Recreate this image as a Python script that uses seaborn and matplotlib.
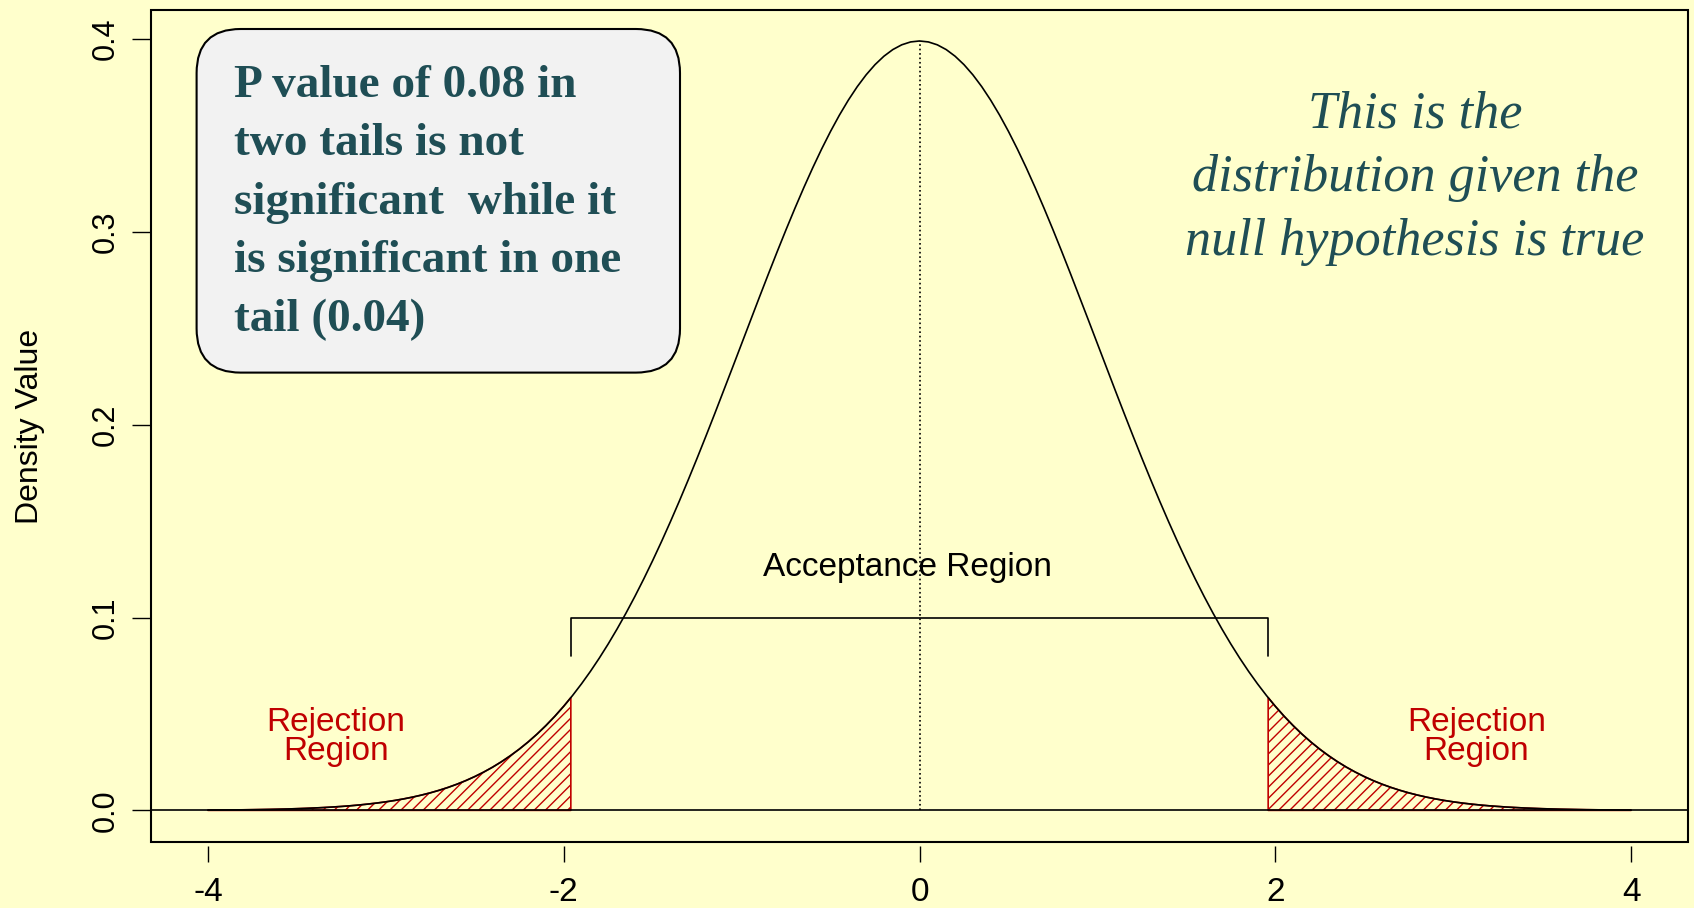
import numpy as np
import matplotlib
matplotlib.use('Agg')
import matplotlib.pyplot as plt
from matplotlib.patches import FancyBboxPatch, Rectangle
import seaborn as sns

# ── datos (densidad normal estándar, paso 0.05) ─────────────────────────────
x_vals = [round(-4 + 0.05 * i, 2) for i in range(161)]
densidad = [
    0.00013, 0.00016, 0.00020, 0.00024, 0.00029, 0.00035, 0.00042, 0.00051, 0.00061, 0.00073,
    0.00087, 0.00104, 0.00123, 0.00146, 0.00172, 0.00203, 0.00238, 0.00279, 0.00327, 0.00381,
    0.00443, 0.00514, 0.00595, 0.00687, 0.00792, 0.00909, 0.01042, 0.01191, 0.01358, 0.01545,
    0.01753, 0.01984, 0.02239, 0.02522, 0.02833, 0.03174, 0.03547, 0.03955, 0.04398, 0.04879,
    0.05399, 0.05959, 0.06562, 0.07206, 0.07895, 0.08628, 0.09405, 0.10226, 0.11092, 0.12001,
    0.12952, 0.13943, 0.14973, 0.16038, 0.17137, 0.18265, 0.19419, 0.20594, 0.21785, 0.22988,
    0.24197, 0.25406, 0.26609, 0.27798, 0.28969, 0.30114, 0.31225, 0.32297, 0.33322, 0.34294,
    0.35207, 0.36053, 0.36827, 0.37524, 0.38139, 0.38667, 0.39104, 0.39448, 0.39695, 0.39844,
    0.39894,
    0.39844, 0.39695, 0.39448, 0.39104, 0.38667, 0.38139, 0.37524, 0.36827, 0.36053, 0.35207,
    0.34294, 0.33322, 0.32297, 0.31225, 0.30114, 0.28969, 0.27798, 0.26609, 0.25406, 0.24197,
    0.22988, 0.21785, 0.20594, 0.19419, 0.18265, 0.17137, 0.16038, 0.14973, 0.13943, 0.12952,
    0.12001, 0.11092, 0.10226, 0.09405, 0.08628, 0.07895, 0.07206, 0.06562, 0.05959, 0.05399,
    0.04879, 0.04398, 0.03955, 0.03547, 0.03174, 0.02833, 0.02522, 0.02239, 0.01984, 0.01753,
    0.01545, 0.01358, 0.01191, 0.01042, 0.00909, 0.00792, 0.00687, 0.00595, 0.00514, 0.00443,
    0.00381, 0.00327, 0.00279, 0.00238, 0.00203, 0.00172, 0.00146, 0.00123, 0.00104, 0.00087,
    0.00073, 0.00061, 0.00051, 0.00042, 0.00035, 0.00029, 0.00024, 0.00020, 0.00016, 0.00013,
]
z_crit = 1.96
dens_crit = 0.05844
pico = 0.39894
bracket_y = [0.08, 0.10]

xticks = [-4, -2, 0, 2, 4]
xtick_labels = ['-4', '-2', '0', '2', '4']
yticks = [0.0, 0.1, 0.2, 0.3, 0.4]
ytick_labels = ['0.0', '0.1', '0.2', '0.3', '0.4']

box_lines = ['P value of 0.08 in', 'two tails is not', 'significant  while it',
             'is significant in one', 'tail (0.04)']
nota_lines = ['This is the', 'distribution given the', 'null hypothesis is true']

FONDO = '#FFFFCC'; ROJO = '#C00000'; TEAL = '#1F4E55'; CAJA = '#F2F2F2'

sns.set_style('white', rc={'axes.facecolor': FONDO, 'figure.facecolor': FONDO})
plt.rcParams['font.family'] = ['Liberation Sans', 'DejaVu Sans']
plt.rcParams['hatch.linewidth'] = 1.0
plt.rcParams['hatch.color'] = ROJO

W, H = 1694, 908
fig = plt.figure(figsize=(W / 100, H / 100), dpi=100)
fig.patch.set_facecolor(FONDO)
ax = fig.add_axes([151 / W, 1 - 842 / H, (1688 - 151) / W, (842 - 10) / H])
ax.set_facecolor(FONDO)

# curva
sns.lineplot(x=x_vals, y=densidad, color='black', lw=1.2, ax=ax)

# colas sombreadas
xs = np.array(x_vals); ds = np.array(densidad)
izq = xs <= -z_crit
der = xs >= z_crit
tx_l = np.append(xs[izq], -z_crit); ty_l = np.append(ds[izq], dens_crit)
tx_r = np.insert(xs[der], 0, z_crit); ty_r = np.insert(ds[der], 0, dens_crit)
for tx, ty in [(tx_l, ty_l), (tx_r, ty_r)]:
    ax.fill_between(tx, 0, ty, facecolor='none', edgecolor=ROJO, hatch='///', lw=1.2)

ax.axhline(0, color='black', lw=1.2)
ax.plot([0, 0], [0, pico], color='black', lw=1.2, ls=':')
ax.plot([-z_crit, -z_crit, z_crit, z_crit],
        [bracket_y[0], bracket_y[1], bracket_y[1], bracket_y[0]], color='black', lw=1.2)

ax.text(-0.07, 0.1216, 'Acceptance Region', ha='center', va='baseline', fontsize=24, color='black')
ax.text(-3.28, 0.038, 'Rejection\nRegion', ha='center', va='center', fontsize=24,
        color=ROJO, linespacing=0.9)
ax.text(3.13, 0.038, 'Rejection\nRegion', ha='center', va='center', fontsize=24,
        color=ROJO, linespacing=0.9)

ax.set_xlim(-4.32, 4.32)
ax.set_ylim(-0.0164, 0.415)

# ejes estilo R
for sp in ax.spines.values():
    sp.set_visible(False)
ax.spines['bottom'].set_position(('outward', 3))
ax.add_patch(Rectangle((0, 0), 1, 1, transform=ax.transAxes, fill=False,
                       edgecolor='black', lw=1.5, clip_on=False, zorder=5))
ax.set_xticks(xticks)
ax.set_xticklabels(xtick_labels)
ax.set_yticks(yticks)
ax.set_yticklabels(ytick_labels, rotation=90, va='center')
ax.tick_params(axis='x', direction='out', length=11.5, width=1.0, pad=11, labelsize=24,
               color='black', labelcolor='black', bottom=True)
ax.tick_params(axis='y', direction='out', length=13.7, width=1.0, pad=8.3, labelsize=22,
               color='black', labelcolor='black', left=True)
ax.set_xlabel('')
ax.set_ylabel('Density Value', fontsize=23, color='black')
ax.yaxis.set_label_coords((45 - 151) / 1537, 0.5)

# caja de texto
caja = FancyBboxPatch((196.6 / W, 1 - 372.6 / H), (680 - 196.6) / W, (372.6 - 29) / H,
                      boxstyle='round,pad=0,rounding_size=0.026', mutation_aspect=W / H,
                      transform=fig.transFigure, facecolor=CAJA, edgecolor='black', lw=1.5,
                      zorder=6)
fig.patches.append(caja)
for i, linea in enumerate(box_lines):
    fig.text(234 / W, 1 - (97 + 58.4 * i) / H, linea, ha='left', va='baseline',
             fontsize=34, fontweight='bold', color=TEAL, family='Liberation Serif', zorder=7)

for i, linea in enumerate(nota_lines):
    fig.text(1415 / W, 1 - (127 + 64 * i) / H, linea, ha='center', va='baseline',
             fontsize=37.5, fontstyle='italic', color=TEAL, family='Liberation Serif')

plt.savefig('out.png', dpi=100, facecolor=FONDO)
plt.close()
